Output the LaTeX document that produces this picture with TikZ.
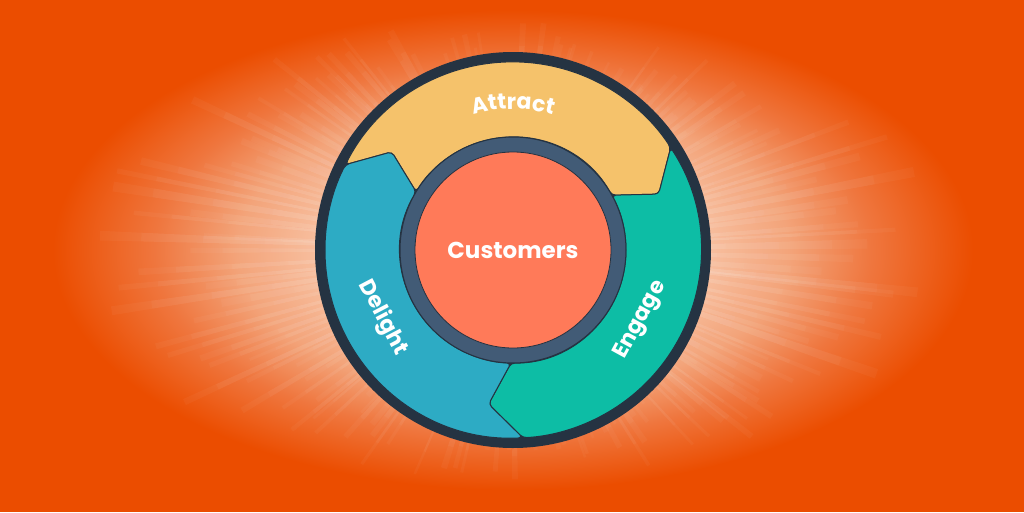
\documentclass[tikz,border=0pt]{standalone}
\usepackage{fontspec}
\setmainfont{Poppins}
\usepackage{xcolor}
\usepackage{tikz}
\usetikzlibrary{decorations.text}

\definecolor{bgorange}{HTML}{EB4D00}
\definecolor{glowcore}{HTML}{FBD6BE}
\definecolor{glowmid}{HTML}{F7BC9B}
\definecolor{glowfall}{HTML}{F3A47A}
\definecolor{glowouter}{HTML}{EF763E}
\definecolor{navy}{HTML}{253342}
\definecolor{slate}{HTML}{425B76}
\definecolor{coral}{HTML}{FF7A59}
\definecolor{attractyellow}{HTML}{F5C26B}
\definecolor{engageteal}{HTML}{0DBDA5}
\definecolor{delightblue}{HTML}{2DABC4}

\pgfdeclareradialshading{glow}{\pgfpoint{0bp}{0bp}}{%
  color(0bp)=(glowcore); color(7bp)=(glowcore); color(11bp)=(glowmid);
  color(15bp)=(glowfall); color(19.5bp)=(glowouter); color(25bp)=(bgorange);
  color(50bp)=(bgorange)}

\newcommand{\lblfont}{\fontsize{22}{22}\selectfont\bfseries}

\begin{document}
\begin{tikzpicture}[
  x=1pt, y=1pt,
  seg/.style={draw=navy, line width=1pt, rounded corners=4pt},
  ray/.style={fill=white, fill opacity=0.035},
  stage/.style={text=white, font=\lblfont, inner sep=0},
  arclbl/.style={decorate, decoration={text along path, text align=center,
      text color=white, text={|\lblfont|#1}}}
]
% canvas and glow
\useasboundingbox (-513,-262) rectangle (511,250);
\fill[bgorange] (-513,-262) rectangle (511,250);
\shade[shading=glow] (0,0) ellipse[x radius=460, y radius=240];

% light rays
\pgfmathsetseed{11}
\foreach \i in {0,...,179} {
  \pgfmathsetmacro\a{\i*2+rnd*1.5}
  \pgfmathsetmacro\w{0.3+0.5*rnd}
  \pgfmathsetmacro\L{(0.7+0.3*rnd)*100*4.4*2.3/sqrt((2.3*cos(\a))^2+(4.4*sin(\a))^2)}
  \foreach \k in {0.45,0.6,0.75,0.9,1.0}
    \fill[ray] (0,0) -- (\a-\w:\k*\L) -- (\a+\w:\k*\L) -- cycle;
}

% flywheel
\node[circle, fill=navy, inner sep=0, minimum size=396] (wheel) at (0,0) {};

\fill[attractyellow, seg] (153:188) arc[start angle=153, end angle=33, radius=188]
  -- (21:156) -- (29:113) arc[start angle=29, end angle=149, radius=113]
  -- (141:156) -- cycle;
\fill[engageteal, seg] (33:188) arc[start angle=33, end angle=-87, radius=188]
  -- (-99:156) -- (-91:113) arc[start angle=-91, end angle=29, radius=113]
  -- (21:156) -- cycle;
\fill[delightblue, seg] (-87:188) arc[start angle=-87, end angle=-207, radius=188]
  -- (-219:156) -- (-211:113) arc[start angle=-211, end angle=-91, radius=113]
  -- (-99:156) -- cycle;

\node[circle, fill=slate, draw=navy, line width=1pt, inner sep=0, minimum size=226] (hub) at (0,0) {};
\node[circle, fill=coral, draw=navy, line width=0.8pt, inner sep=0, minimum size=196,
  text=white, font=\fontsize{23}{23}\selectfont\bfseries] (core) at (0,0) {Customers};

% stage labels
\path[arclbl=Attract] (125:141) arc[start angle=125, end angle=55, radius=141];
\node[stage, rotate=61.3] (engage) at (-28.7:146) {Engage};
\node[stage, rotate=-62.4] (delight) at (207.6:147) {Delight};
\end{tikzpicture}
\end{document}
